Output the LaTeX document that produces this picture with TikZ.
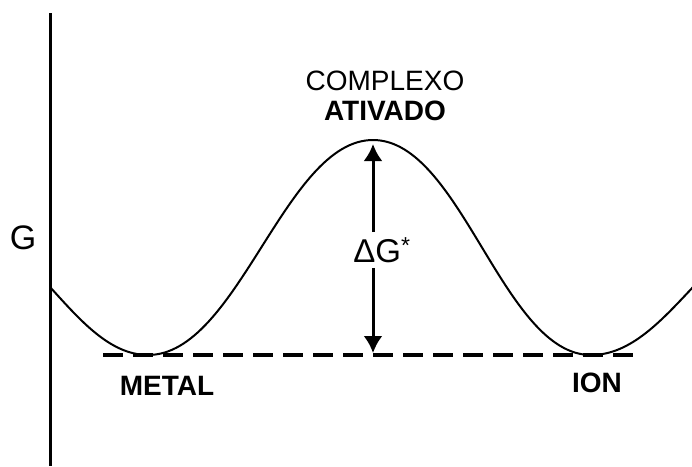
\documentclass[tikz,border=0pt]{standalone}
\usepackage{fontspec}
\setmainfont{Liberation Sans}
\usetikzlibrary{arrows.meta,positioning}
\tikzset{
  axisline/.style={line width=3pt},
  energycurve/.style={line width=2pt,line join=round},
  levelline/.style={line width=4pt,dash pattern=on 20pt off 10pt},
  gaparrow/.style={-{Latex[length=17pt,width=19pt]},line width=3pt},
  labeltext/.style={inner sep=0pt,font=\fontsize{28}{30}\selectfont},
  boldtext/.style={labeltext,font=\fontsize{28}{30}\selectfont\bfseries}
}
\begin{document}
\begin{tikzpicture}[x=1pt,y=-1pt]
  \useasboundingbox (0,0) rectangle (692,466);
  \coordinate (ytop) at (50,13);
  \coordinate (ybot) at (50,466);
  \coordinate (cstart) at (50,287);
  \coordinate (mleft) at (148,355);
  \coordinate (peak) at (373,140);
  \coordinate (mright) at (591,355);
  \coordinate (cend) at (694,286);
  \coordinate (dl) at (103,355);
  \coordinate (dr) at (637,355);
  \coordinate (base) at (373,353);
  \coordinate (tip) at (373,144);

  \draw[axisline] (ytop) -- (ybot);
  \draw[energycurve] (cstart) .. controls (80,320) and (110,355) .. (mleft)
    .. controls (238,355) and (285,140) .. (peak)
    .. controls (461,140) and (503,355) .. (mright)
    .. controls (631,355) and (662,320) .. (cend);
  \draw[levelline] (dl) -- (dr);

  \node[labeltext,font=\fontsize{34}{36}\selectfont] (glabel) at (23,238) {G};
  \node[labeltext,font=\fontsize{33}{34}\selectfont,inner sep=5pt] (dg) at (382,250) {ΔG\textsuperscript{*}};
  \draw[gaparrow] (dg.north -| tip) -- (tip);
  \draw[gaparrow] (dg.south -| base) -- (base);

  \node[labeltext] (complexo) at (385,81) {COMPLEXO};
  \node[boldtext,below=10pt of complexo] (ativado) {ATIVADO};
  \node[boldtext] (metal) at (167,386) {METAL};
  \node[boldtext] (ion) at (597,383) {ION};
\end{tikzpicture}
\end{document}
